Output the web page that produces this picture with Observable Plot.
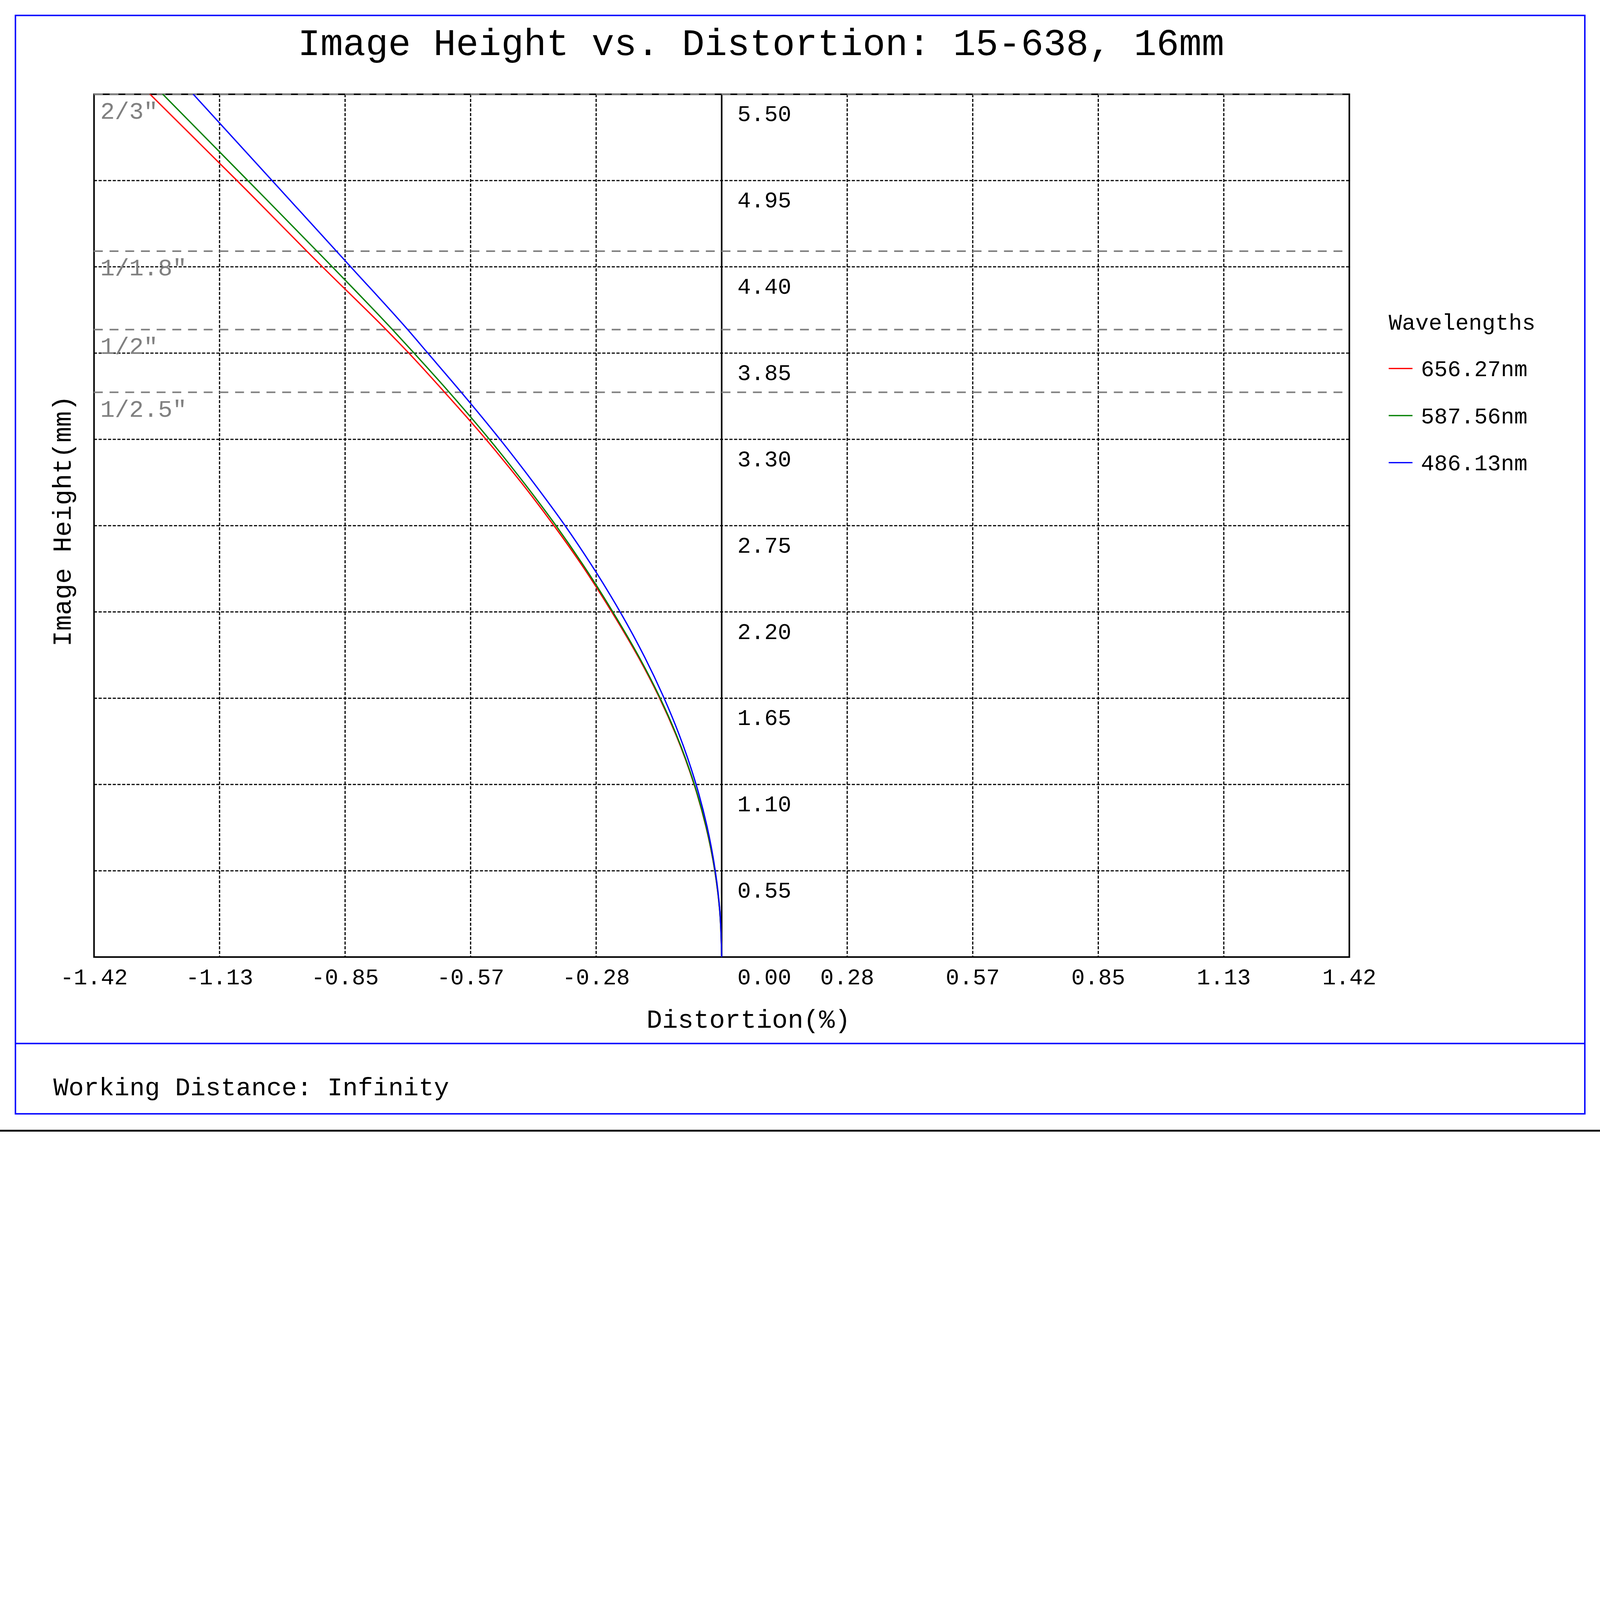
<!DOCTYPE html>
<html>
<head>
<meta charset="utf-8">
<script src="https://cdn.jsdelivr.net/npm/d3@7"></script>
<script src="https://cdn.jsdelivr.net/npm/@observablehq/plot@0.6"></script>
<style>
  html, body { margin: 0; padding: 0; background: #ffffff; overflow: hidden; }
  #wrap { position: relative; background: #ffffff; overflow: hidden; }
  #wrap > svg { position: absolute; left: 0; top: 0; max-width: none !important; }
  #overlay { pointer-events: none; }
</style>
</head>
<body>
<div id="wrap"></div>
<script>
// ---------- data ----------
const titleText = "Image Height vs. Distortion: 15-638, 16mm";
const xTitle = "Distortion(%)";
const yTitle = "Image Height(mm)";
const caption = "Working Distance: Infinity";
const legendTitle = "Wavelengths";

const xTickLabels = ["-1.42", "-1.13", "-0.85", "-0.57", "-0.28", "0.00", "0.28", "0.57", "0.85", "1.13", "1.42"];
const yTickLabels = ["0.55", "1.10", "1.65", "2.20", "2.75", "3.30", "3.85", "4.40", "4.95", "5.50"];
const yTickValues = [0.55, 1.10, 1.65, 2.20, 2.75, 3.30, 3.85, 4.40, 4.95, 5.50];
const xMax = 1.4184;

const sensorNames = ['2/3"', '1/1.8"', '1/2"', '1/2.5"'];
const sensorHeights = [5.5, 4.5, 4.0, 3.6];

const wavelengths = ["656.27nm", "587.56nm", "486.13nm"];
const colors = ["#ff0000", "#008000", "#0000ff"];

const heights = [0, 0.30, 0.55, 0.83, 1.10, 1.42, 1.65, 1.91, 2.20, 2.50, 2.75, 3.02, 3.30, 3.60, 3.85, 4.00, 4.40, 4.95, 5.50];
const dist656 = [0, -0.0046, -0.0156, -0.0355, -0.0623, -0.1038, -0.1402, -0.1879, -0.2483, -0.3163, -0.3789, -0.4515, -0.5325, -0.6260, -0.7070, -0.7584, -0.9022, -1.0953, -1.2917];
const dist587 = [0, -0.0046, -0.0154, -0.0351, -0.0617, -0.1028, -0.1389, -0.1861, -0.2459, -0.3131, -0.3743, -0.4460, -0.5249, -0.6156, -0.6952, -0.7440, -0.8799, -1.0708, -1.2629];
const dist486 = [0, -0.0043, -0.0145, -0.0329, -0.0578, -0.0964, -0.1301, -0.1737, -0.2294, -0.2944, -0.3539, -0.4241, -0.5009, -0.5884, -0.6641, -0.7096, -0.8383, -1.0161, -1.1940];

// ---------- derived tables ----------
const xTickValues = xTickLabels.map((_, i) => -xMax + i * (2 * xMax) / (xTickLabels.length - 1));
const series = [dist656, dist587, dist486];
const rows = [];
series.forEach((arr, s) => arr.forEach((d, i) => rows.push({wl: wavelengths[s], color: colors[s], d, h: heights[i]})));
const xLabelRows = xTickLabels.map((t, i) => ({t, v: xTickValues[i]}));
const yLabelRows = yTickLabels.map((t, i) => ({t, v: yTickValues[i]}));
const sensorRows = sensorNames.map((t, i) => ({t, v: sensorHeights[i]}));

const FONT = "Liberation Mono, Cousine, DejaVu Sans Mono, monospace";
const W = 6118, H = 4327;
const mL = 359, mR = W - 5159, mT = 360, mB = H - 3659;

// scale to the actual viewport so nothing is cut off
const vw = window.innerWidth || W, vh = window.innerHeight || H;
const s = Math.min(vw / W, vh / H) || 1;
const wrap = document.getElementById("wrap");
wrap.style.width = (W * s) + "px";
wrap.style.height = (H * s) + "px";

const plot = Plot.plot({
  width: W,
  height: H,
  marginLeft: mL,
  marginRight: mR,
  marginTop: mT,
  marginBottom: mB,
  x: {domain: [-xMax, xMax], axis: null},
  y: {domain: [0, 5.5], axis: null},
  color: {type: "identity"},
  style: {fontFamily: FONT, background: "transparent", overflow: "visible"},
  marks: [
    Plot.ruleX(xTickValues.filter((v, i) => i > 0 && i < xTickValues.length - 1 && Math.abs(v) > 1e-9),
      {stroke: "#000000", strokeWidth: 4.5, strokeDasharray: "12,6"}),
    Plot.ruleY(yTickValues.filter(v => v < 5.5),
      {stroke: "#000000", strokeWidth: 4.5, strokeDasharray: "12,6"}),
    Plot.frame({stroke: "#000000", strokeWidth: 6}),
    Plot.ruleX([0], {stroke: "#000000", strokeWidth: 6}),
    Plot.ruleY(sensorRows, {y: "v", stroke: "#808080", strokeWidth: 6, strokeDasharray: "34,26"}),
    Plot.text(sensorRows, {x: () => -xMax, y: "v", text: "t", textAnchor: "start", lineAnchor: "bottom",
      dx: 24, dy: 93, fontSize: 92, fill: "#808080", fontFamily: FONT}),
    Plot.line(rows, {x: "d", y: "h", z: "wl", stroke: "color", strokeWidth: 5, curve: "monotone-y", clip: true}),
    Plot.text(yLabelRows, {x: () => 0, y: "v", text: "t", textAnchor: "start", lineAnchor: "bottom",
      dx: 60, dy: 103, fontSize: 86, fill: "#000000", fontFamily: FONT}),
    Plot.text(xLabelRows.filter(r => r.t !== "0.00"), {x: "v", y: () => 0, text: "t", textAnchor: "middle", lineAnchor: "bottom",
      dy: 104, fontSize: 86, fill: "#000000", fontFamily: FONT}),
    Plot.text(xLabelRows.filter(r => r.t === "0.00"), {x: "v", y: () => 0, text: "t", textAnchor: "start", lineAnchor: "bottom",
      dx: 60, dy: 104, fontSize: 86, fill: "#000000", fontFamily: FONT})
  ]
});
plot.setAttribute("viewBox", `0 0 ${W} ${H}`);
plot.setAttribute("width", W * s);
plot.setAttribute("height", H * s);
plot.style.width = (W * s) + "px";
plot.style.height = (H * s) + "px";
wrap.appendChild(plot);

// ---------- overlay: frame, title, axis titles, legend, caption ----------
const svg = d3.select("#wrap").append("svg")
  .attr("id", "overlay")
  .attr("width", W * s).attr("height", H * s)
  .attr("viewBox", `0 0 ${W} ${H}`)
  .style("font-family", FONT);

svg.append("rect").attr("x", 59).attr("y", 59).attr("width", 6060 - 59).attr("height", 4259 - 59)
  .attr("fill", "none").attr("stroke", "#0000ff").attr("stroke-width", 5.5);
svg.append("line").attr("x1", 59).attr("x2", 6060).attr("y1", 3990).attr("y2", 3990)
  .attr("stroke", "#0000ff").attr("stroke-width", 5.5);
svg.append("rect").attr("x", 0).attr("y", 4320).attr("width", W).attr("height", 7).attr("fill", "#000000");

svg.append("text").attr("x", 2910).attr("y", 210).attr("text-anchor", "middle")
  .attr("font-size", 144).attr("fill", "#000000").text(titleText);
svg.append("text").attr("x", 2862).attr("y", 3930).attr("text-anchor", "middle")
  .attr("font-size", 100).attr("fill", "#000000").text(xTitle);
svg.append("text").attr("transform", "translate(270,1992) rotate(-90)").attr("text-anchor", "middle")
  .attr("font-size", 100).attr("fill", "#000000").text(yTitle);

svg.append("text").attr("x", 5310).attr("y", 1261).attr("font-size", 85).attr("fill", "#000000").text(legendTitle);
const lg = svg.append("g").selectAll("g").data(wavelengths).join("g")
  .attr("transform", (d, i) => `translate(0,${1409 + i * 180})`);
lg.append("line").attr("x1", 5310).attr("x2", 5401).attr("y1", 0).attr("y2", 0)
  .attr("stroke", (d, i) => colors[i]).attr("stroke-width", 5);
lg.append("text").attr("x", 5433).attr("y", 30).attr("font-size", 85).attr("fill", "#000000").text(d => d);

svg.append("text").attr("x", 204).attr("y", 4188).attr("font-size", 97).attr("fill", "#000000").text(caption);
</script>
</body>
</html>
